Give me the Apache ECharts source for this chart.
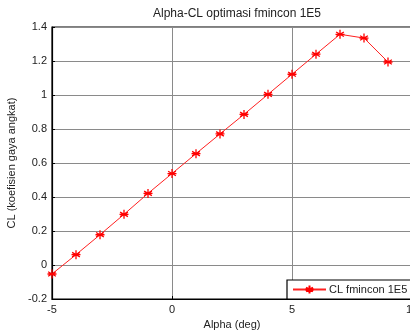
<!DOCTYPE html>
<html>
<head>
<meta charset="utf-8">
<script src="https://cdn.jsdelivr.net/npm/echarts@6/dist/echarts.min.js"></script>
<style>
  html, body { margin: 0; padding: 0; background: #fff; }
  #chart { width: 410px; height: 331px; }
</style>
</head>
<body>
<div id="chart"></div>
<script>
// Angle of attack (deg) and lift coefficient from the fmincon run
const alphaDeg = [-5, -4, -3, -2, -1, 0, 1, 2, 3, 4, 5, 6, 7, 8, 9];
const clValues = [-0.053, 0.061, 0.178, 0.298, 0.421, 0.538, 0.655, 0.771, 0.886, 1.004, 1.122, 1.240, 1.357, 1.335, 1.194];
const seriesName = 'CL fmincon 1E5';

const FONT = '"Liberation Sans", Arial, sans-serif';
const asterisk = 'path://M0,-5L0,5M-4.33,-2.5L4.33,2.5M-4.33,2.5L4.33,-2.5M-5,0L5,0';

const chart = echarts.init(document.getElementById('chart'), null, { renderer: 'canvas' });
chart.setOption({
  animation: false,
  backgroundColor: '#fff',
  title: {
    text: 'Alpha-CL optimasi fmincon 1E5',
    left: 232, top: 3, textAlign: 'center',
    textStyle: { fontFamily: FONT, fontSize: 12, fontWeight: 'normal', color: '#222' }
  },
  grid: {
    left: 52, right: -2, top: 27, bottom: 32,
    outerBoundsMode: 'none', containLabel: false,
    show: true, borderColor: '#000', borderWidth: 1.2, backgroundColor: '#fff'
  },
  legend: {
    left: 287, bottom: 32,
    backgroundColor: '#fff', borderColor: '#000', borderWidth: 1.2,
    padding: [4, 12, 4, 5], itemWidth: 33, itemHeight: 10, itemGap: 4,
    textStyle: { fontFamily: FONT, fontSize: 11, color: '#222', padding: [0, 0, 0, -2] },
    data: [{ name: seriesName }]
  },
  xAxis: {
    type: 'value', min: -5, max: 10, interval: 5,
    name: 'Alpha (deg)', nameLocation: 'middle', nameGap: 17,
    nameTextStyle: { fontFamily: FONT, fontSize: 11, color: '#222' },
    axisLine: { onZero: false, lineStyle: { color: '#000', width: 1.2 } },
    axisTick: { inside: true, length: 3, lineStyle: { color: '#000' } },
    axisLabel: { fontFamily: FONT, fontSize: 11, color: '#222', margin: 5 },
    splitLine: { show: true, lineStyle: { color: '#8a8a8a', width: 1 } }
  },
  yAxis: {
    type: 'value', min: -0.2, max: 1.4, interval: 0.2,
    name: 'CL (koefisien gaya angkat)', nameLocation: 'middle', nameGap: 32,
    nameTextStyle: { fontFamily: FONT, fontSize: 11, color: '#222' },
    axisLine: { show: true, onZero: false, lineStyle: { color: '#000', width: 1.2 } },
    axisTick: { show: true, inside: true, length: 3, lineStyle: { color: '#000' } },
    axisLabel: {
      fontFamily: FONT, fontSize: 11, color: '#222', margin: 5,
      formatter: v => String(Math.round(v * 10) / 10)
    },
    splitLine: { show: true, lineStyle: { color: '#8a8a8a', width: 1 } }
  },
  series: [{
    name: seriesName,
    type: 'line',
    data: alphaDeg.map((a, i) => [a, clValues[i]]),
    lineStyle: { color: '#ff2020', width: 1 },
    symbol: asterisk,
    symbolSize: 9,
    showAllSymbol: true,
    itemStyle: { color: '#ff0000', borderColor: '#ff0000', borderWidth: 1.3 },
    z: 5
  }]
});
</script>
</body>
</html>
